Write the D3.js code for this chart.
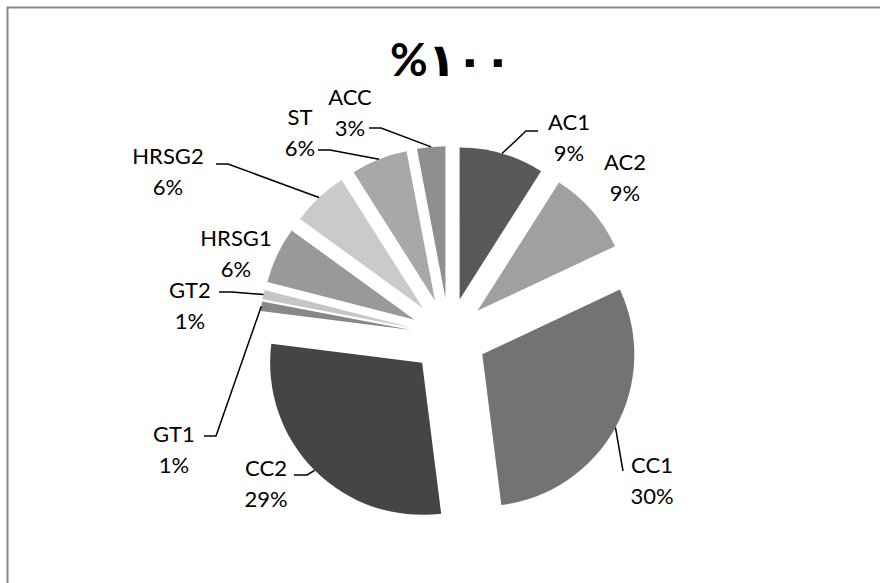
<!DOCTYPE html>
<html>
<head>
<meta charset="utf-8">
<script src="https://cdn.jsdelivr.net/npm/d3@7"></script>
<style>
  html, body { margin: 0; padding: 0; background: #ffffff; }
  svg { display: block; }
</style>
</head>
<body>
<svg id="chart" width="880" height="583"></svg>
<script>
// Share of each component (percent), in drawing order clockwise from 12 o'clock
const categories = ["AC1", "AC2", "CC1", "CC2", "GT1", "GT2", "HRSG1", "HRSG2", "ST", "ACC"];
const values = [9, 9, 30, 29, 1, 1, 6, 6, 6, 3];
const sliceColors = ["#595959", "#a0a0a0", "#737373", "#454545", "#878787",
                     "#c6c6c6", "#999999", "#cacaca", "#a8a8a8", "#8f8f8f"];
const title = "%۱۰۰";

// Label placement: centre x, first baseline y, and optional leader elbow/end points
const labelLayout = {
  AC1:   { x: 569, y: 130, elbow: [526, 131], end: [538, 131] },
  AC2:   { x: 625, y: 170 },
  CC1:   { x: 652, y: 473, elbow: [623, 471], end: [623, 471] },
  CC2:   { x: 266, y: 476, elbow: [307, 475], end: [294, 475] },
  GT1:   { x: 174, y: 442, elbow: [216, 436], end: [204, 436] },
  GT2:   { x: 190, y: 298, elbow: [232, 292], end: [219, 292] },
  HRSG1: { x: 236, y: 246 },
  HRSG2: { x: 168, y: 164, elbow: [228, 164], end: [216, 164] },
  ST:    { x: 300, y: 125, elbow: [330, 150], end: [318, 150] },
  ACC:   { x: 350, y: 105, elbow: [381, 128], end: [369, 128] }
};

const svg = d3.select("#chart");
const W = 880, H = 583;

// chart area frame
svg.append("rect")
  .attr("x", 7.5).attr("y", 7.5)
  .attr("width", W + 20).attr("height", H + 20)
  .attr("fill", "#ffffff")
  .attr("stroke", "#898989")
  .attr("stroke-width", 2);

const cx = 449, cy = 336;
const radius = 152;
const explode = 38;

const pie = d3.pie().sort(null).value(d => d.value);
const arcs = pie(categories.map((c, i) => ({ name: c, value: values[i], color: sliceColors[i] })));
const arc = d3.arc().innerRadius(0).outerRadius(radius);

const g = svg.append("g").attr("transform", `translate(${cx},${cy})`);

function midAngle(d) { return (d.startAngle + d.endAngle) / 2; }
function offset(d) {
  const a = midAngle(d);
  return [Math.sin(a) * explode, -Math.cos(a) * explode];
}

g.selectAll("path.slice")
  .data(arcs)
  .join("path")
  .attr("class", "slice")
  .attr("d", arc)
  .attr("fill", d => d.data.color)
  .attr("transform", d => { const o = offset(d); return `translate(${o[0]},${o[1]})`; });

// leader lines from the middle of each slice's outer edge to its label
const leaders = svg.append("g");
arcs.forEach(d => {
  const L = labelLayout[d.data.name];
  if (!L.elbow) return;
  const a = midAngle(d);
  const o = offset(d);
  const sx = cx + o[0] + Math.sin(a) * radius;
  const sy = cy + o[1] - Math.cos(a) * radius;
  leaders.append("polyline")
    .attr("points", `${sx},${sy} ${L.elbow[0]},${L.elbow[1]} ${L.end[0]},${L.end[1]}`)
    .attr("fill", "none")
    .attr("stroke", "#000000")
    .attr("stroke-width", 1.5);
});

// two-line data labels: category name and percentage
const fmt = d3.format("d");
const labels = svg.append("g")
  .attr("font-family", "Lato, 'Open Sans', sans-serif")
  .attr("font-size", 22)
  .attr("fill", "#000000")
  .attr("text-anchor", "middle");
arcs.forEach(d => {
  const L = labelLayout[d.data.name];
  const t = labels.append("text").attr("x", L.x).attr("y", L.y);
  t.append("tspan").attr("x", L.x).attr("y", L.y).text(d.data.name);
  t.append("tspan").attr("x", L.x).attr("y", L.y + 31).text(fmt(d.data.value) + "%");
});

// chart title
svg.append("text")
  .attr("x", 390).attr("y", 76)
  .attr("font-family", "Lato, 'DejaVu Sans', sans-serif")
  .attr("font-weight", "bold")
  .attr("font-size", 46)
  .attr("direction", "ltr")
  .attr("fill", "#000000")
  .text(title);
</script>
</body>
</html>
